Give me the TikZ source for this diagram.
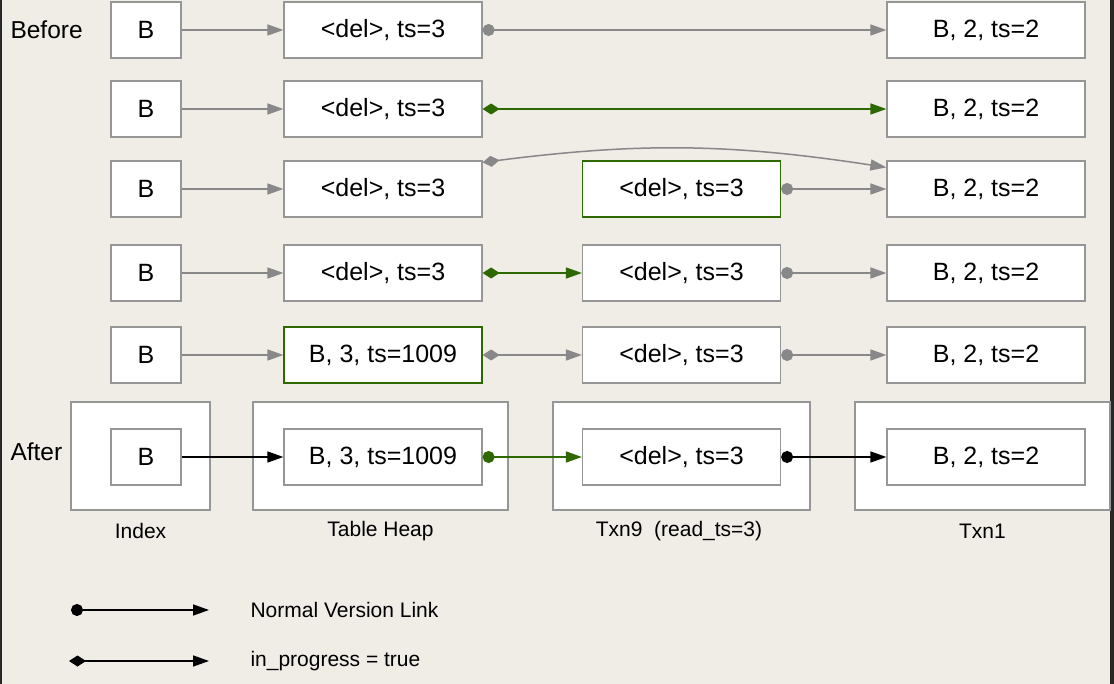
\documentclass[tikz,border=0pt]{standalone}
\usepackage{fontspec}
\setmainfont{Liberation Sans}
\usetikzlibrary{arrows.meta}
\definecolor{paper}{RGB}{240,236,230}
\definecolor{edge}{RGB}{40,40,40}
\definecolor{linkgray}{RGB}{136,136,136}
\definecolor{boxgray}{RGB}{150,150,150}
\definecolor{progreen}{RGB}{45,104,0}
\tikzset{
  rec/.style={draw=boxgray, fill=white, line width=1.2pt, inner sep=0pt, minimum height=56pt, font=\fontsize{25}{29}\selectfont},
  keyrec/.style={rec, minimum width=70pt},
  verrec/.style={rec, minimum width=198pt},
  newrec/.style={verrec, draw=progreen},
  txnframe/.style={draw=boxgray, fill=white, line width=1.2pt, inner sep=0pt, minimum height=108pt},
  lbl/.style={font=\fontsize{21}{25}\selectfont},
  link/.style={line width=1.5pt, -{Triangle[length=16pt,width=11pt]}},
  verlink/.style={line width=1.5pt, {Circle[length=12pt]}-{Triangle[length=16pt,width=11pt]}},
  proglink/.style={line width=1.5pt, {Diamond[length=17pt,width=11pt]}-{Triangle[length=16pt,width=11pt]}},
}
\begin{document}
\begin{tikzpicture}[x=1pt,y=-1pt]
    % background
    \fill[paper] (0,0) rectangle (1114,684);
    \useasboundingbox (0,0) rectangle (1114,684);
    \fill[edge] (0,0) rectangle (2,684);
    \fill[edge] (1110,0) rectangle (1114,684);

    \node[lbl, font=\fontsize{24.5}{28}\selectfont, anchor=west] (before) at (7,30) {Before};
    \node[lbl, font=\fontsize{24.5}{28}\selectfont, anchor=west] (after) at (7,452) {After};

    % row 1
    \node[keyrec] (key1) at (146,30) {B};
    \node[verrec] (heap1) at (383,30) {<del>, ts=3};
    \node[verrec] (txnone1) at (986,30) {B, 2, ts=2};
    \draw[link, linkgray] (key1) -- (heap1);
    \draw[verlink, linkgray] (heap1) -- (txnone1);

    % row 2
    \node[keyrec] (key2) at (146,109) {B};
    \node[verrec] (heap2) at (383,109) {<del>, ts=3};
    \node[verrec] (txnone2) at (986,109) {B, 2, ts=2};
    \draw[link, linkgray] (key2) -- (heap2);
    \draw[proglink, progreen] (heap2) -- (txnone2);

    % row 3
    \node[keyrec] (key3) at (146,189) {B};
    \node[verrec] (heap3) at (383,189) {<del>, ts=3};
    \node[newrec] (txnnine3) at (681.5,189) {<del>, ts=3};
    \node[verrec] (txnone3) at (986,189) {B, 2, ts=2};
    \draw[link, linkgray] (key3) -- (heap3);
    \draw[proglink, linkgray] ([yshift=-2pt]heap3.north east) to[bend left=8] ([yshift=-7pt]txnone3.north west);
    \draw[verlink, linkgray] (txnnine3) -- (txnone3);

    % row 4
    \node[keyrec] (key4) at (146,273) {B};
    \node[verrec] (heap4) at (383,273) {<del>, ts=3};
    \node[verrec] (txnnine4) at (681.5,273) {<del>, ts=3};
    \node[verrec] (txnone4) at (986,273) {B, 2, ts=2};
    \draw[link, linkgray] (key4) -- (heap4);
    \draw[proglink, progreen] (heap4) -- (txnnine4);
    \draw[verlink, linkgray] (txnnine4) -- (txnone4);

    % row 5
    \node[keyrec] (key5) at (146,355) {B};
    \node[newrec] (heap5) at (383,355) {B, 3, ts=1009};
    \node[verrec] (txnnine5) at (681.5,355) {<del>, ts=3};
    \node[verrec] (txnone5) at (986,355) {B, 2, ts=2};
    \draw[link, linkgray] (key5) -- (heap5);
    \draw[proglink, linkgray] (heap5) -- (txnnine5);
    \draw[verlink, linkgray] (txnnine5) -- (txnone5);

    % after
    \node[txnframe, minimum width=139pt] (idxframe) at (140.5,456) {};
    \node[txnframe, minimum width=255pt] (heapframe) at (380.5,456) {};
    \node[txnframe, minimum width=257pt] (txnnineframe) at (681.5,456) {};
    \node[txnframe, minimum width=255pt] (txnoneframe) at (982.5,456) {};
    \node[keyrec] (key6) at (146,457) {B};
    \node[verrec] (heap6) at (383,457) {B, 3, ts=1009};
    \node[verrec] (txnnine6) at (681.5,457) {<del>, ts=3};
    \node[verrec] (txnone6) at (986,457) {B, 2, ts=2};
    \draw[link, black] (key6) -- (heap6);
    \draw[verlink, progreen] (heap6) -- (txnnine6);
    \draw[verlink, black] (txnnine6) -- (txnone6);

    \node[lbl] (idxlbl) at (140.5,531) {Index};
    \node[lbl] (heaplbl) at (380.5,531) {Table Heap};
    \node[lbl] (txnninelbl) at (679,531) {Txn9~~(read\_ts=3)};
    \node[lbl] (txnonelbl) at (982.5,531) {Txn1};

    % legend
    \coordinate (lga) at (71,610);
    \coordinate (lgb) at (209,610);
    \coordinate (lgc) at (69,661);
    \coordinate (lgd) at (209,661);
    \draw[verlink, black] (lga) -- (lgb);
    \draw[proglink, black] (lgc) -- (lgd);
    \node[lbl, anchor=west] (lgtxta) at (247,610) {Normal Version Link};
    \node[lbl, anchor=west] (lgtxtb) at (247,661) {in\_progress = true};
\end{tikzpicture}
\end{document}
